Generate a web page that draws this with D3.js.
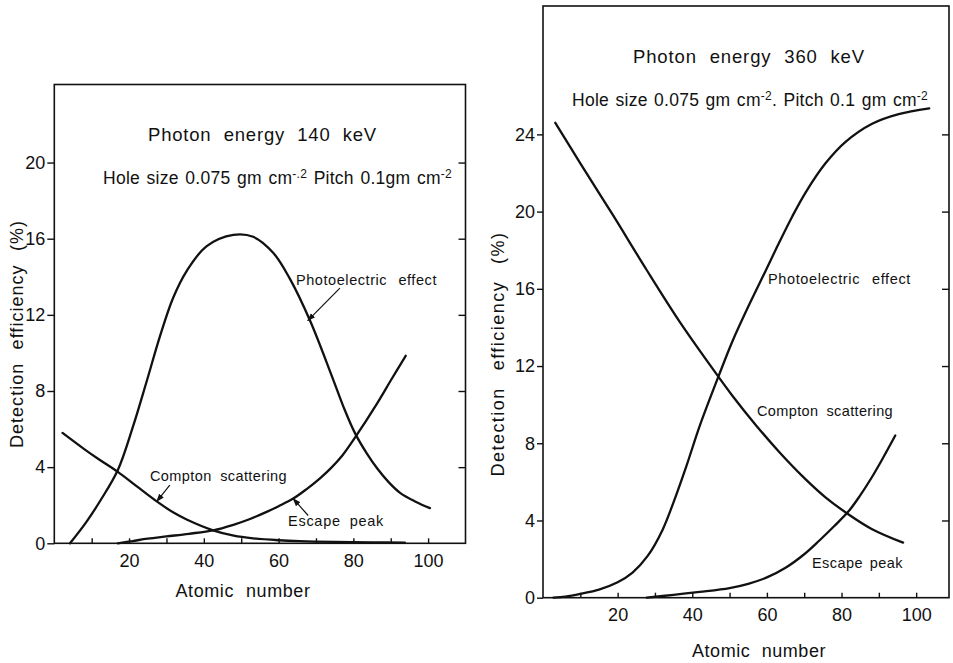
<!DOCTYPE html>
<html><head><meta charset="utf-8">
<script src="https://cdn.jsdelivr.net/npm/d3@7"></script>
<style>
body{margin:0;background:#fff}
svg{display:block}
text{font-family:"Liberation Sans",Arial,sans-serif;fill:#111}
</style>
</head><body>
<svg id="c" width="953" height="663"></svg>
<script>
// ---------- Left panel: 140 keV ----------
const leftPhotoZ  = [4.2, 8.5, 12.5, 17, 21, 24.7, 28.3, 31.8, 35.4, 40.7, 47.9, 53.2, 58.6, 63, 68.4, 74.6, 77.5, 80.4, 83.5, 86.5, 89.5, 92.5, 96.5, 100.5];
const leftPhotoV  = [0, 1.1, 2.3, 3.85, 6.1, 8.5, 10.9, 12.9, 14.3, 15.6, 16.2, 16.1, 15.25, 13.9, 11.7, 8.6, 7.1, 5.8, 4.75, 3.9, 3.2, 2.65, 2.2, 1.85];
const leftComptonZ = [2.2, 8, 12, 17, 22, 27.4, 32, 35.4, 42.5, 48, 53.2, 60, 65.7, 75, 85, 93.8];
const leftComptonV = [5.8, 4.95, 4.4, 3.75, 3.0, 2.2, 1.6, 1.25, 0.68, 0.4, 0.26, 0.16, 0.11, 0.07, 0.05, 0.04];
const leftEscapeZ = [17, 21, 25, 30, 36, 42.5, 47.9, 52, 56.8, 60, 63.9, 67.5, 71, 74, 77, 80.6, 86.2, 90, 94];
const leftEscapeV = [0, 0.12, 0.24, 0.36, 0.5, 0.68, 0.97, 1.25, 1.65, 1.95, 2.35, 2.85, 3.4, 3.95, 4.6, 5.6, 7.3, 8.55, 9.85];

// ---------- Right panel: 360 keV ----------
const rightPhotoZ = [2.8, 6, 10, 15, 20, 24, 28, 32, 35, 38.4, 42, 47.3, 50.8, 55.3, 59.7, 63.3, 66.8, 70.4, 75.7, 81, 88.2, 95.3, 103.5];
const rightPhotoV = [0, 0.06, 0.2, 0.42, 0.8, 1.3, 2.15, 3.5, 4.95, 6.8, 8.9, 11.6, 13.3, 15.2, 16.95, 18.4, 19.75, 21.0, 22.5, 23.6, 24.55, 25.05, 25.35];
const rightComptonZ = [3.3, 10, 18.8, 27.7, 36.6, 45.5, 50.8, 57, 63.3, 69.5, 75.7, 82, 88.2, 96.5];
const rightComptonV = [24.6, 22.5, 19.8, 17.0, 14.3, 11.85, 10.45, 8.95, 7.55, 6.3, 5.2, 4.3, 3.55, 2.85];
const rightEscapeZ = [27.8, 35, 42, 50, 55, 60, 65, 70, 74, 78, 82, 85, 88, 91, 94.4];
const rightEscapeV = [0, 0.15, 0.3, 0.5, 0.72, 1.05, 1.55, 2.25, 2.95, 3.7, 4.5, 5.3, 6.2, 7.2, 8.4];

// ---------- Ticks ----------
const xMinorTicks = [10, 20, 30, 40, 50, 60, 70, 80, 90, 100];
const xTickLabels = [20, 40, 60, 80, 100];
const leftYTicks  = [0, 4, 8, 12, 16, 20];
const rightYTicks = [0, 4, 8, 12, 16, 20, 24];

// ---------- Text ----------
const yTitle = "Detection efficiency (%)";
const xTitle = "Atomic number";
const leftTitle = "Photon energy 140 keV";
const rightTitle = "Photon energy 360 keV";

// Arrow annotations (data units: [tailZ, tailV, headZ, headV])
const leftArrows = [[76.4, 13.4, 67.8, 11.7], [30.9, 3.05, 27.4, 2.2], [67.9, 1.46, 63.9, 2.35]];

const svg = d3.select("#c");
const defs = svg.append("defs");
defs.append("marker").attr("id","ah").attr("viewBox","0 0 10 10").attr("refX",9).attr("refY",5)
  .attr("markerWidth",7).attr("markerHeight",7).attr("orient","auto-start-reverse")
  .append("path").attr("d","M0,1.5 L10,5 L0,8.5 Z").attr("fill","#111");

// fit text to a target width: letters spread a little, words get the rest
function fit(sel, target, lsShare) {
  const node = sel.node();
  const txt = node.textContent;
  const spaces = (txt.match(/ /g) || []).length;
  const n = txt.length;
  let len = node.getComputedTextLength();
  if (len > target) {
    const fs = parseFloat(sel.style("font-size"));
    sel.style("font-size", (fs * target / len) + "px");
    return;
  }
  const extra = target - len;
  const share = spaces > 0 ? (lsShare == null ? 0.5 : lsShare) : 1;
  const ls = Math.min(extra * share / (n - 1), 3);
  sel.style("letter-spacing", ls + "px");
  const len2 = node.getComputedTextLength();
  if (spaces > 0) sel.style("word-spacing", Math.max(0, (target - len2) / spaces) + "px");
}

function panel(cfg) {
  const g = svg.append("g");
  const x = d3.scaleLinear().domain([0, cfg.xmax]).range([cfg.left, cfg.right]);
  const y = d3.scaleLinear().domain([0, cfg.ymax]).range([cfg.bottom, cfg.top]);

  // left axis with outward ticks and labels
  const ya = g.append("g").attr("transform", `translate(${cfg.left},0)`)
    .call(d3.axisLeft(y).tickValues(cfg.yTicks).tickSize(cfg.tick).tickPadding(cfg.pad).tickFormat(d3.format("d")));
  ya.select(".domain").remove();
  ya.selectAll("line").attr("stroke","#111").attr("stroke-width",1.4);
  ya.selectAll("text").attr("font-family",null).style("font-size","18px").attr("fill","#111");

  // right side inward ticks
  const yr = g.append("g").attr("transform", `translate(${cfg.right},0)`)
    .call(d3.axisLeft(y).tickValues(cfg.yTicks.filter(v => v > 0)).tickSize(7).tickFormat(""));
  yr.select(".domain").remove();
  yr.selectAll("line").attr("stroke","#111").attr("stroke-width",1.4);

  // bottom inward ticks
  const xt = g.append("g").attr("transform", `translate(0,${cfg.bottom})`)
    .call(d3.axisTop(x).tickValues(xMinorTicks).tickSize(5).tickFormat(""));
  xt.select(".domain").remove();
  xt.selectAll("line").attr("stroke","#111").attr("stroke-width",1.4);

  // bottom labels
  const xl = g.append("g").attr("transform", `translate(0,${cfg.bottom})`)
    .call(d3.axisBottom(x).tickValues(xTickLabels).tickSize(0).tickPadding(11).tickFormat(d3.format("d")));
  xl.select(".domain").remove();
  xl.selectAll("text").attr("font-family",null).style("font-size","18px").attr("fill","#111");

  // frame
  g.append("rect").attr("x", cfg.left).attr("y", cfg.top)
    .attr("width", cfg.right - cfg.left).attr("height", cfg.bottom - cfg.top)
    .attr("fill","none").attr("stroke","#111").attr("stroke-width",1.6);

  // curves
  const line = d3.line().x(d => x(d[0])).y(d => y(d[1])).curve(d3.curveCatmullRom.alpha(0.5));
  cfg.series.forEach(s => {
    g.append("path").datum(d3.zip(s[0], s[1])).attr("d", line)
      .attr("fill","none").attr("stroke","#111").attr("stroke-width",2.3)
      .attr("stroke-linecap","round");
  });

  // arrows
  (cfg.arrows || []).forEach(a => {
    g.append("line").attr("x1", x(a[0])).attr("y1", y(a[1])).attr("x2", x(a[2])).attr("y2", y(a[3]))
      .attr("stroke","#111").attr("stroke-width",1.2).attr("marker-end","url(#ah)");
  });

  // axis titles
  const yt = g.append("text").attr("transform", `translate(${cfg.ytX},${cfg.ytY}) rotate(-90)`)
    .attr("text-anchor","middle").style("font-size","18px").text(yTitle);
  fit(yt, cfg.ytLen, 0.6);
  const xtt = g.append("text").attr("x", cfg.xtX).attr("y", cfg.xtY)
    .attr("text-anchor","middle").style("font-size","18px").text(xTitle);
  fit(xtt, cfg.xtLen, 0.5);

  // plot titles
  const t1 = g.append("text").attr("x", cfg.t1[0]).attr("y", cfg.t1[1]).style("font-size","18.5px").text(cfg.title);
  fit(t1, cfg.t1[2], 0.45);
  const t2 = g.append("text").attr("x", cfg.t2[0]).attr("y", cfg.t2[1]).style("font-size","17.5px");
  cfg.hole.forEach(p => {
    const ts = t2.append("tspan").text(p[0]);
    if (p[1]) ts.attr("dy", -6).style("font-size","12px");
    else if (p[2]) ts.attr("dy", 6);
  });
  fit(t2, cfg.t2[2], 0.5);

  // curve labels
  cfg.labels.forEach(l => {
    const t = g.append("text").attr("x", l[1]).attr("y", l[2]).style("font-size","14.5px").text(l[0]);
    fit(t, l[3], 0.6);
  });
}

panel({
  left: 54.3, right: 465.5, top: 84.5, bottom: 543.3, xmax: 110, ymax: 24.1,
  yTicks: leftYTicks, tick: 7, pad: 2,
  series: [[leftPhotoZ, leftPhotoV], [leftComptonZ, leftComptonV], [leftEscapeZ, leftEscapeV]],
  arrows: leftArrows,
  ytX: 23, ytY: 334, ytLen: 228,
  xtX: 243, xtY: 597, xtLen: 135,
  title: leftTitle, t1: [148, 141, 229],
  t2: [103, 184, 349],
  hole: [["Hole size 0.075 gm cm"], ["-.2", true], [" Pitch 0.1gm cm", false, true], ["-2", true]],
  labels: [["Photoelectric effect", 296, 285, 141], ["Compton scattering", 150, 481, 137], ["Escape peak", 288, 526, 96]]
});

panel({
  left: 543, right: 949, top: 6, bottom: 597.7, xmax: 108.8, ymax: 30.65,
  yTicks: rightYTicks, tick: 6, pad: 2,
  series: [[rightPhotoZ, rightPhotoV], [rightComptonZ, rightComptonV], [rightEscapeZ, rightEscapeV]],
  arrows: [],
  ytX: 504, ytY: 354, ytLen: 245,
  xtX: 759, xtY: 657, xtLen: 134,
  title: rightTitle, t1: [633, 63, 232],
  t2: [572, 106, 356],
  hole: [["Hole size 0.075 gm cm"], ["-2", true], [". Pitch 0.1 gm cm", false, true], ["-2", true]],
  labels: [["Photoelectric effect", 768, 284, 143], ["Compton scattering", 757, 416, 136], ["Escape peak", 812, 568, 91]]
});
</script>
</body></html>
